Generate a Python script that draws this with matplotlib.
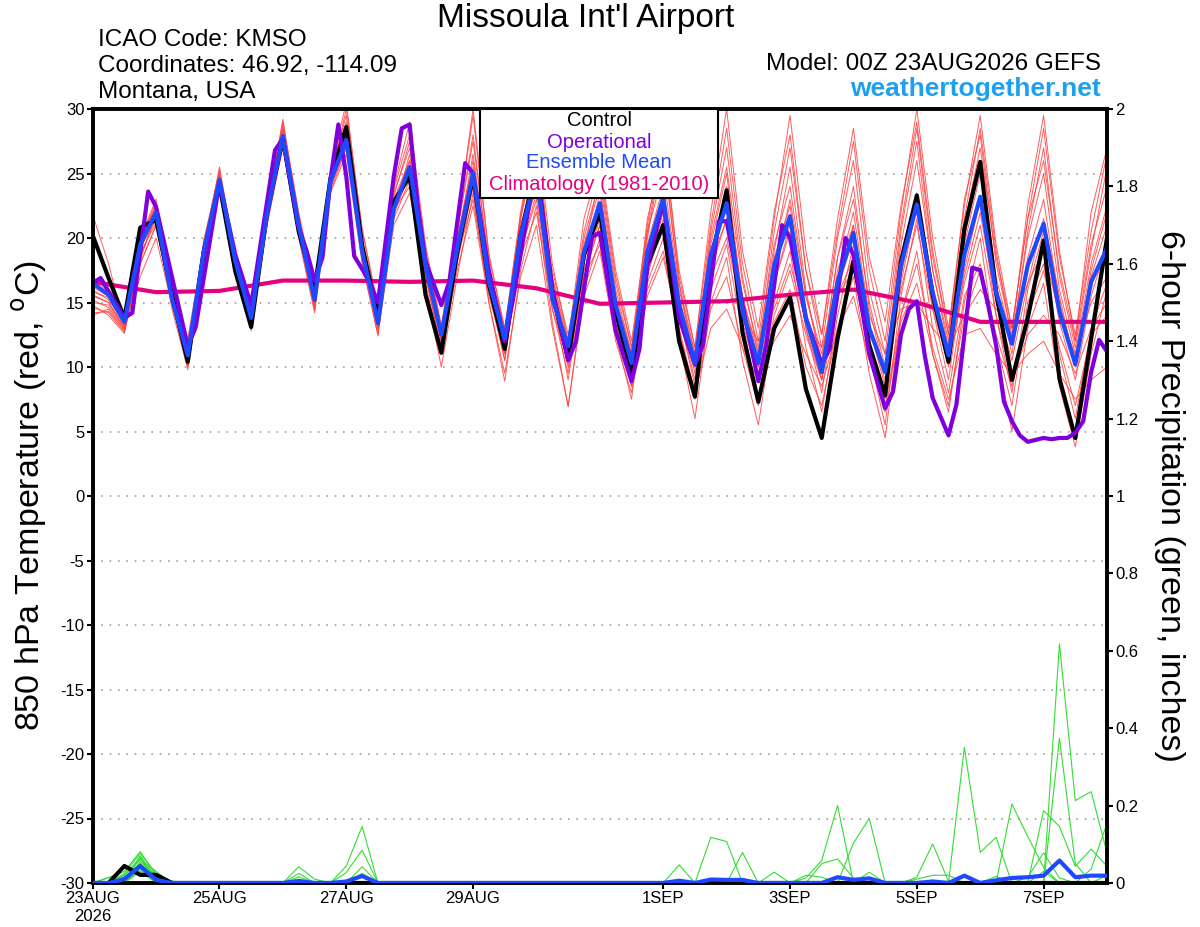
import numpy as np
import matplotlib
matplotlib.use('Agg')
import matplotlib.pyplot as plt
from matplotlib.patches import Rectangle

plt.rcParams['font.family'] = ['Liberation Sans', 'DejaVu Sans']
plt.rcParams['axes.unicode_minus'] = False

# forecast hours, 6-hourly out to 384h
hours = np.arange(0, 385, 6)

control_t = [20.2, 16.9, 13.8, 20.8, 21.4, 15.6, 10.4, 18.9, 24.1, 17.4, 13.1, 22.0,
             27.7, 20.5, 16.0, 24.6, 28.6, 19.4, 13.9, 22.8, 24.8, 15.6, 11.1, 18.9,
             24.8, 16.4, 11.4, 20.2, 25.5, 15.8, 10.6, 18.7, 22.0, 14.3, 9.4, 17.9,
             21.0, 12.0, 7.7, 18.2, 23.7, 12.7, 7.3, 13.0, 15.4, 8.3, 4.5, 12.2,
             18.2, 11.7, 7.8, 18.2, 23.3, 15.6, 10.4, 20.7, 25.9, 15.8, 9.0, 13.8,
             19.8, 9.1, 4.5, 12.2, 20.0]

ens_mean_t = [16.5, 15.6, 13.5, 19.5, 22.0, 15.3, 10.9, 18.9, 24.5, 18.2, 13.8, 21.8,
              27.9, 21.0, 15.2, 24.4, 27.6, 19.0, 13.4, 22.3, 25.5, 17.9, 12.5, 19.2,
              25.0, 16.6, 12.2, 20.2, 25.0, 15.3, 11.6, 18.9, 22.7, 14.8, 10.3, 18.9,
              23.1, 14.8, 10.3, 18.7, 22.7, 14.3, 10.3, 17.9, 21.7, 13.8, 9.6, 16.6,
              20.4, 13.0, 9.6, 17.9, 22.6, 15.8, 10.9, 18.7, 23.2, 15.8, 11.8, 17.9,
              21.1, 14.3, 10.2, 16.6, 19.2]

# operational run has 3-hourly output, vertices as read
op_hours = [0, 3, 12, 15, 21, 24, 36, 39, 48, 54, 60, 69, 72, 78, 81, 84, 87, 90,
            93, 96, 99, 102, 105, 108, 114, 117, 120, 123, 126, 132, 135, 141, 144,
            150, 156, 159, 165, 168, 174, 180, 183, 189, 192, 198, 204, 207, 210,
            216, 222, 228, 231, 237, 240, 246, 252, 255, 261, 264, 270, 276, 279,
            285, 288, 294, 300, 303, 306, 309, 312, 315, 318, 324, 327, 330, 333,
            336, 339, 342, 345, 348, 351, 354, 360, 363, 366, 369, 372, 375, 378,
            381, 384]
op_t = [16.5, 16.9, 13.8, 14.2, 23.6, 22.4, 11.6, 13.1, 24.3, 18.7, 14.8, 26.8, 27.7,
        20.8, 19.0, 16.7, 18.5, 24.5, 28.8, 24.8, 18.6, 17.6, 16.5, 15.0, 24.8, 28.5,
        28.8, 22.6, 18.2, 14.8, 16.6, 25.8, 25.0, 17.4, 12.0, 15.1, 22.3, 25.5, 16.0,
        10.5, 12.0, 20.1, 20.4, 12.8, 8.9, 11.4, 17.9, 22.8, 13.8, 10.2, 11.7, 21.3,
        21.3, 14.8, 8.9, 11.7, 21.0, 20.0, 13.8, 10.2, 11.4, 20.0, 18.7, 11.0, 6.8,
        8.1, 12.5, 14.5, 15.1, 10.9, 7.6, 4.7, 7.1, 12.5, 17.7, 17.5, 14.8, 11.7, 7.3,
        5.8, 4.7, 4.2, 4.5, 4.4, 4.5, 4.5, 4.9, 5.8, 9.6, 12.1, 11.2]

clim_hours = np.arange(0, 385, 24)
clim_t = [16.6, 15.8, 15.9, 16.7, 16.7, 16.6, 16.7, 16.1, 14.9, 15.0, 15.1, 15.6,
          16.0, 15.0, 13.5, 13.5, 13.5]

# ensemble members, 850 hPa temperature
m01 = [21.8, 18.0, 13.2, 19.0, 22.5, 16.0, 11.2, 19.2, 25.0, 18.5, 14.0, 22.0, 28.5, 21.5, 15.5, 25.0,
       29.5, 20.0, 14.0, 23.5, 27.0, 19.0, 13.0, 20.5, 27.5, 18.0, 12.5, 21.5, 27.5, 17.0, 12.0, 20.5,
       25.5, 17.0, 11.5, 20.5, 27.5, 17.5, 11.5, 21.0, 28.5, 18.0, 12.0, 21.5, 29.5, 19.0, 12.5, 20.5,
       27.5, 17.5, 12.0, 22.0, 30.0, 20.0, 13.0, 22.5, 29.5, 19.5, 13.0, 21.5, 28.5, 18.5, 12.5, 20.5, 26.5]
m02 = [14.0, 14.5, 12.8, 18.0, 21.0, 15.0, 10.5, 18.5, 24.0, 18.0, 13.5, 21.0, 27.5, 21.0, 15.0, 24.0,
       27.0, 18.5, 13.0, 21.5, 24.5, 17.0, 12.0, 18.5, 23.0, 15.5, 11.0, 18.5, 22.0, 14.5, 10.5, 17.0,
       19.5, 13.0, 9.0, 16.0, 19.0, 12.5, 8.0, 13.0, 14.5, 11.5, 9.0, 12.0, 14.0, 11.0, 8.5, 13.0,
       15.5, 10.5, 7.0, 14.0, 18.0, 11.5, 7.5, 12.5, 13.0, 11.0, 9.5, 11.0, 12.0, 9.5, 7.5, 9.0, 10.0]
m03 = [15.5, 15.0, 13.0, 19.8, 22.8, 16.0, 11.0, 19.0, 24.8, 18.5, 14.2, 22.3, 28.2, 21.5, 15.8, 24.8,
       28.0, 19.5, 14.5, 23.0, 26.0, 18.5, 12.0, 19.5, 26.5, 17.5, 12.8, 21.0, 25.5, 16.0, 10.0, 18.0,
       23.5, 15.5, 11.0, 20.5, 25.0, 16.0, 11.0, 20.0, 25.5, 16.5, 11.5, 19.5, 24.0, 15.5, 10.5, 18.5,
       23.0, 15.0, 10.0, 19.5, 26.0, 17.5, 12.0, 21.0, 27.0, 18.5, 13.0, 21.5, 26.0, 17.5, 12.0, 19.5, 24.0]
m04 = [14.8, 14.0, 12.6, 18.8, 21.2, 14.5, 9.8, 18.0, 23.8, 17.5, 12.8, 21.0, 27.0, 20.0, 14.2, 23.5,
       26.5, 18.0, 12.5, 21.0, 23.5, 16.5, 11.0, 17.5, 22.5, 15.0, 9.5, 17.0, 21.0, 13.0, 7.0, 15.5,
       19.0, 12.0, 8.0, 16.5, 20.0, 12.0, 6.0, 15.0, 18.5, 10.5, 5.5, 13.5, 16.0, 10.0, 7.0, 13.0,
       17.0, 9.5, 4.5, 14.0, 19.0, 11.0, 6.5, 15.0, 20.0, 11.5, 5.0, 13.0, 16.5, 8.5, 3.8, 11.0, 16.0]
m05 = [16.0, 15.2, 13.4, 18.5, 21.8, 15.5, 10.8, 18.6, 24.2, 18.0, 13.6, 21.5, 27.8, 20.8, 15.0, 24.0,
       27.2, 19.0, 13.5, 22.5, 25.5, 18.0, 12.5, 19.0, 25.0, 16.5, 11.5, 20.0, 24.0, 15.0, 11.0, 19.0,
       22.0, 14.0, 9.5, 18.0, 22.5, 15.0, 10.0, 18.0, 21.5, 13.5, 9.0, 16.5, 20.5, 13.0, 9.0, 15.5,
       17.5, 12.5, 10.0, 16.0, 21.0, 14.5, 10.5, 17.0, 22.0, 15.0, 10.5, 16.5, 19.0, 14.0, 11.0, 15.0, 17.0]
m06 = [17.0, 15.8, 13.6, 20.5, 22.2, 15.8, 11.6, 19.6, 25.3, 18.8, 14.4, 22.5, 29.0, 22.0, 16.2, 25.2,
       30.5, 20.5, 14.8, 24.0, 29.0, 19.5, 13.2, 21.0, 29.5, 18.5, 13.0, 22.0, 28.5, 18.0, 12.0, 21.5,
       26.0, 17.5, 12.0, 21.0, 28.5, 17.0, 11.5, 22.0, 30.0, 19.0, 13.0, 22.0, 28.0, 17.5, 12.5, 21.5,
       28.5, 18.5, 13.5, 22.5, 29.0, 19.0, 12.5, 23.0, 28.0, 18.0, 12.5, 22.5, 29.5, 19.0, 12.0, 22.0, 27.0]
m07 = [15.2, 14.6, 13.0, 17.0, 20.0, 14.8, 10.2, 17.8, 24.0, 17.8, 13.2, 21.2, 27.2, 20.5, 14.6, 24.2,
       28.5, 19.2, 12.8, 22.8, 25.0, 17.0, 11.5, 18.0, 24.0, 16.0, 10.5, 19.0, 23.0, 14.5, 9.5, 17.5,
       21.0, 14.5, 10.5, 19.0, 23.5, 14.0, 9.0, 17.0, 20.0, 14.0, 12.0, 14.5, 18.0, 13.5, 11.5, 16.0,
       21.0, 13.0, 8.5, 17.0, 23.0, 15.0, 10.0, 16.5, 21.0, 14.0, 9.0, 12.5, 14.0, 12.5, 9.5, 13.0, 16.5]
m08 = [16.8, 15.5, 13.3, 19.2, 21.5, 16.5, 12.2, 19.4, 24.6, 18.3, 13.9, 22.0, 28.0, 21.0, 15.4, 24.6,
       27.8, 18.8, 13.6, 22.0, 26.5, 18.5, 12.8, 20.0, 26.0, 17.0, 12.0, 20.5, 26.5, 16.5, 11.5, 19.5,
       24.0, 15.0, 10.0, 19.5, 24.0, 14.5, 9.5, 19.0, 23.0, 15.5, 11.0, 18.5, 22.5, 14.0, 9.0, 17.5,
       21.0, 13.0, 9.0, 18.0, 23.5, 16.0, 11.0, 19.5, 25.0, 16.5, 11.0, 18.5, 23.0, 15.0, 10.5, 17.0, 21.0]
m09 = [14.2, 14.3, 12.9, 18.3, 22.0, 15.2, 10.0, 18.2, 24.3, 17.6, 13.0, 21.8, 27.6, 20.2, 14.4, 23.8,
       27.5, 18.2, 12.4, 22.2, 24.0, 16.0, 10.0, 17.0, 23.5, 15.0, 8.9, 17.5, 22.5, 13.5, 6.9, 16.0,
       20.0, 12.5, 7.5, 17.0, 21.5, 13.0, 7.5, 14.5, 17.0, 11.5, 7.0, 15.0, 19.0, 11.5, 6.5, 14.0,
       19.5, 11.0, 5.5, 15.5, 21.5, 13.0, 8.0, 15.5, 18.0, 12.5, 8.5, 14.0, 17.5, 11.5, 7.0, 12.5, 14.0]
m10 = [15.8, 15.4, 13.6, 19.6, 22.6, 15.6, 10.6, 19.8, 25.0, 18.2, 13.4, 21.6, 28.4, 21.6, 15.6, 25.0,
       29.0, 19.8, 14.0, 23.2, 27.5, 18.2, 12.2, 20.5, 28.0, 17.8, 12.0, 21.5, 27.0, 17.0, 11.5, 20.0,
       24.5, 16.0, 11.0, 21.5, 26.5, 16.5, 11.0, 19.5, 25.0, 15.0, 10.0, 19.0, 25.5, 16.0, 10.0, 18.5,
       24.0, 14.5, 9.5, 20.5, 27.5, 17.5, 11.5, 20.0, 26.0, 17.0, 12.0, 20.0, 25.0, 16.0, 11.0, 18.0, 22.5]
m11 = [15.0, 14.8, 13.1, 18.6, 21.6, 15.0, 10.4, 18.8, 24.4, 17.9, 13.5, 21.4, 27.7, 20.6, 14.8, 23.9,
       27.6, 19.4, 13.0, 22.4, 25.2, 17.2, 11.2, 18.6, 24.5, 16.2, 11.0, 19.5, 24.0, 15.0, 10.5, 17.5,
       21.5, 13.5, 8.5, 17.5, 22.0, 14.0, 8.5, 17.5, 21.5, 14.5, 10.0, 16.5, 21.0, 13.0, 8.0, 16.0,
       20.0, 12.0, 7.5, 16.5, 22.5, 14.5, 9.0, 17.5, 23.0, 14.0, 8.0, 16.0, 20.5, 13.5, 9.0, 15.5, 19.5]
m12 = [16.2, 15.5, 13.8, 20.0, 23.0, 16.2, 11.4, 19.0, 24.6, 18.6, 14.0, 22.4, 28.8, 21.8, 16.0, 24.4,
       28.2, 19.6, 13.8, 22.6, 26.0, 18.8, 13.0, 20.0, 25.5, 17.5, 12.5, 20.0, 25.0, 17.5, 12.5, 19.0,
       22.5, 15.0, 11.0, 18.0, 23.0, 15.5, 10.5, 18.5, 24.0, 15.5, 10.5, 17.5, 23.0, 15.5, 11.0, 17.0,
       22.0, 14.0, 11.0, 14.5, 15.0, 13.0, 11.5, 14.0, 16.0, 14.5, 13.0, 16.5, 21.5, 15.5, 10.0, 17.5, 22.0]
m13 = [15.6, 15.0, 13.2, 19.4, 22.4, 16.4, 11.8, 19.2, 25.5, 18.4, 13.8, 22.2, 29.2, 21.2, 15.2, 24.6,
       30.0, 20.8, 14.6, 23.8, 28.0, 19.0, 12.6, 21.0, 30.0, 18.8, 12.8, 21.8, 28.0, 16.5, 10.5, 19.0,
       25.0, 16.5, 11.5, 20.0, 27.0, 16.5, 10.0, 20.5, 27.0, 17.0, 11.0, 20.5, 27.0, 17.5, 11.5, 20.0,
       26.0, 16.0, 11.0, 21.0, 28.5, 18.5, 12.5, 21.5, 28.5, 19.0, 12.0, 20.5, 27.0, 17.0, 11.5, 19.0, 25.5]
m14 = [14.6, 14.2, 12.7, 18.0, 21.0, 15.0, 10.6, 18.4, 24.0, 17.4, 13.0, 21.0, 27.4, 20.4, 14.8, 23.6,
       27.0, 18.6, 13.2, 21.8, 25.0, 17.6, 11.8, 18.8, 24.0, 16.0, 10.5, 19.0, 23.5, 15.5, 9.0, 17.0,
       21.0, 14.0, 8.5, 15.5, 18.5, 13.0, 8.0, 16.0, 19.5, 12.5, 7.5, 14.0, 17.5, 12.5, 9.0, 15.5,
       18.5, 12.0, 6.5, 13.5, 16.5, 11.0, 7.0, 14.0, 17.5, 12.0, 7.0, 15.0, 18.0, 11.0, 6.0, 13.0, 15.0]
members_t = [m01, m02, m03, m04, m05, m06, m07, m08, m09, m10, m11, m12, m13, m14]

# 6-hour precip (inches), nonzero steps only {step index: value}
p01 = {1: 0.014, 2: 0.030, 3: 0.081, 4: 0.020, 16: 0.044, 17: 0.146, 37: 0.047}
p02 = {2: 0.025, 3: 0.076, 4: 0.025, 13: 0.042, 14: 0.010, 16: 0.027, 17: 0.085, 39: 0.118, 40: 0.107}
p03 = {2: 0.008, 3: 0.070, 4: 0.015, 13: 0.025, 17: 0.042, 41: 0.079, 52: 0.015, 53: 0.101, 54: 0.004}
p04 = {1: 0.014, 3: 0.066, 4: 0.010, 13: 0.016, 17: 0.025, 43: 0.028, 45: 0.013, 46: 0.058, 47: 0.200}
p05 = {2: 0.020, 3: 0.060, 4: 0.030, 46: 0.050, 47: 0.062, 48: 0.013, 55: 0.350, 56: 0.079, 57: 0.118}
p06 = {3: 0.055, 4: 0.020, 48: 0.103, 49: 0.167, 58: 0.204, 59: 0.120, 60: 0.040}
p07 = {2: 0.015, 3: 0.050, 49: 0.028, 60: 0.187, 61: 0.146, 62: 0.043, 63: 0.088, 64: 0.043}
p08 = {3: 0.045, 4: 0.010, 61: 0.618, 62: 0.213, 63: 0.236, 64: 0.078}
p09 = {2: 0.010, 3: 0.040, 5: 0.005, 61: 0.374, 62: 0.050, 64: 0.020}
p10 = {3: 0.035, 59: 0.015, 60: 0.078, 61: 0.013}
p11 = {3: 0.030, 63: 0.036, 64: 0.154}
p12 = {2: 0.020, 3: 0.065, 52: 0.010, 53: 0.020, 54: 0.020, 57: 0.017}
p13 = {3: 0.050, 4: 0.015, 13: 0.010, 17: 0.016}
p14 = {3: 0.042, 45: 0.020, 46: 0.015, 60: 0.030}
members_p = [p01, p02, p03, p04, p05, p06, p07, p08, p09, p10, p11, p12, p13, p14]

control_p = {2: 0.044, 3: 0.021, 4: 0.021}
ens_mean_p = {2: 0.010, 3: 0.044, 4: 0.008, 13: 0.005, 16: 0.004, 17: 0.018, 37: 0.006,
              39: 0.009, 40: 0.008, 41: 0.008, 47: 0.015, 48: 0.008, 49: 0.012, 53: 0.004,
              55: 0.019, 57: 0.007, 58: 0.013, 59: 0.015, 60: 0.019, 61: 0.058, 62: 0.015,
              63: 0.019, 64: 0.019}

date_ticks = [0, 48, 96, 144, 216, 264, 312, 360]
date_labels = ['23AUG\n2026', '25AUG', '27AUG', '29AUG', '1SEP', '3SEP', '5SEP', '7SEP']


def to_series(steps):
    out = np.zeros(len(hours))
    for k, v in steps.items():
        out[k] = v
    return out


W, H = 1200, 927
fig = plt.figure(figsize=(W / 100, H / 100), dpi=100)
ax = fig.add_axes([92.7 / W, 1 - 883 / H, (1107 - 92.7) / W, (883 - 109) / H])

for m in members_t:
    ax.plot(hours, m, color='#ff4040', lw=0.7, alpha=0.85, zorder=2)
ax.plot(clim_hours, clim_t, color='#e6007e', lw=3, zorder=3)
ax.plot(hours, control_t, color='black', lw=3, zorder=4)
ax.plot(op_hours, op_t, color='#7f00dd', lw=3, zorder=5)
ax.plot(hours, ens_mean_t, color='#2048ff', lw=3, zorder=6)

ax.set_xlim(0, 384)
ax.set_ylim(-30, 30)
ax.set_yticks(np.arange(-30, 31, 5))
ax.set_xticks(date_ticks)
ax.set_xticklabels(date_labels)
ax.yaxis.grid(True, linestyle=(0, (1, 4)), color='#a0a0a0', lw=1.2)
ax.tick_params(direction='out', length=4, width=1.5, labelsize=12, pad=2)

ax2 = ax.twinx()
for p in members_p:
    ax2.plot(hours, to_series(p), color='#33dd33', lw=0.8, zorder=2)
ax2.plot(hours, to_series(control_p), color='black', lw=3, zorder=3)
ax2.plot(hours, to_series(ens_mean_p), color='#2048ff', lw=3, zorder=4)
ax2.set_ylim(0, 2)
ax2.set_yticks(np.arange(0, 2.01, 0.2))
ax2.set_yticklabels(['%g' % round(v, 1) for v in np.arange(0, 2.01, 0.2)])
ax2.tick_params(direction='out', length=4, width=1.5, labelsize=12, pad=2)

for a in (ax, ax2):
    for s in a.spines.values():
        s.set_linewidth(2.6)

# legend box
ax2.add_patch(Rectangle((480 / W, 1 - 198 / H), 238 / W, 89 / H, transform=fig.transFigure,
                        facecolor='white', edgecolor='black', lw=1.5, zorder=20, clip_on=False))
leg_items = [('Control', 'black', 121), ('Operational', '#8000dd', 142),
             ('Ensemble Mean', '#2048ff', 163), ('Climatology (1981-2010)', '#e6007e', 185)]
for txt, col, ypx in leg_items:
    ax2.text(599 / W, 1 - ypx / H, txt, color=col, fontsize=14.5, ha='center', va='center',
             transform=fig.transFigure, zorder=21)

fig.text(586 / W, 1 - 18 / H, "Missoula Int'l Airport", fontsize=24, ha='center', va='center')
fig.text(98 / W, 1 - 40 / H, 'ICAO Code: KMSO', fontsize=17.5, ha='left', va='center')
fig.text(98 / W, 1 - 66 / H, 'Coordinates: 46.92, -114.09', fontsize=17.5, ha='left', va='center')
fig.text(98 / W, 1 - 92 / H, 'Montana, USA', fontsize=17.5, ha='left', va='center')
fig.text(1101 / W, 1 - 64 / H, 'Model: 00Z 23AUG2026 GEFS', fontsize=17.5, ha='right', va='center')
fig.text(1101 / W, 1 - 89 / H, 'weathertogether.net', fontsize=19, ha='right', va='center',
         color='#1ea0f0', fontweight='bold')

fig.text(30 / W, 1 - 495 / H, '850 hPa Temperature (red, $^\\mathrm{o}$C)', fontsize=24.5,
         rotation=90, ha='center', va='center')
fig.text(1170 / W, 1 - 496 / H, '6-hour Precipitation (green, inches)', fontsize=24.5,
         rotation=270, ha='center', va='center')

fig.savefig('out.png', dpi=100)
